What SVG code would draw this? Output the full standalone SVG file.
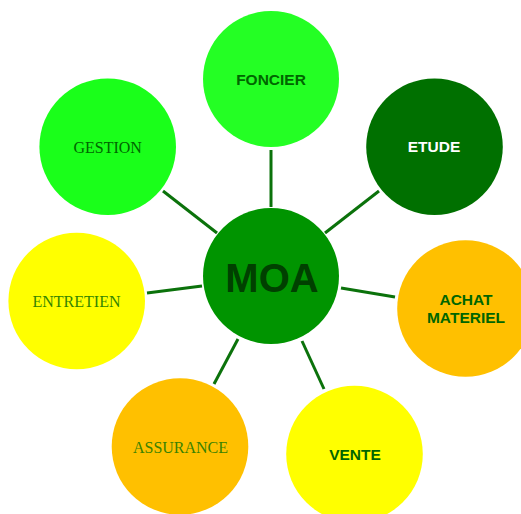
<svg xmlns="http://www.w3.org/2000/svg" width="521" height="514" viewBox="0 0 521 514">
<style>
.c{stroke:none}
.s{font-family:"Liberation Sans",Arial,sans-serif;font-weight:bold;font-size:15.5px;text-anchor:middle;fill:#006600}
.t{font-family:"Liberation Serif","Times New Roman",serif;font-size:16px;text-anchor:middle}
.ln{stroke:#0b720b;stroke-width:3;fill:none}
</style>
<rect width="521" height="514" fill="#ffffff"/>
<g id="connectors">
<line class="ln" x1="271" y1="150" x2="271" y2="207"/>
<line class="ln" x1="325" y1="233" x2="379" y2="191"/>
<line class="ln" x1="163" y1="191" x2="217" y2="233"/>
<line class="ln" x1="147" y1="293" x2="202" y2="286"/>
<line class="ln" x1="341" y1="288" x2="395" y2="297"/>
<line class="ln" x1="302" y1="341" x2="324" y2="389"/>
<line class="ln" x1="238" y1="339" x2="214" y2="384"/>
</g>
<g id="moa">
<circle class="c" cx="271" cy="276" r="68" fill="#009400"/>
<text x="272" y="291.5" style="font-family:'Liberation Sans',Arial,sans-serif;font-weight:bold;font-size:40px;text-anchor:middle" fill="#004000">MOA</text>
</g>
<g id="foncier">
<circle class="c" cx="271" cy="79" r="68" fill="#24ff24"/>
<text class="s" x="271" y="85">FONCIER</text>
</g>
<g id="etude">
<circle class="c" cx="434.5" cy="146.7" r="68.3" fill="#007000"/>
<text class="s" x="434" y="152" style="fill:#ffffff">ETUDE</text>
</g>
<g id="achat">
<circle class="c" cx="465.5" cy="308.5" r="68.3" fill="#ffc000"/>
<text class="s" x="466" y="305">ACHAT</text>
<text class="s" x="466" y="323">MATERIEL</text>
</g>
<g id="vente">
<circle class="c" cx="354.5" cy="454" r="68.3" fill="#ffff00"/>
<text class="s" x="355" y="460">VENTE</text>
</g>
<g id="assurance">
<circle class="c" cx="180" cy="446.5" r="68.3" fill="#ffc000"/>
<text class="t" x="180.5" y="452.5" fill="#3a8200">ASSURANCE</text>
</g>
<g id="entretien">
<circle class="c" cx="76.7" cy="301" r="68.3" fill="#ffff00"/>
<text class="t" x="76.5" y="306.5" fill="#338500">ENTRETIEN</text>
</g>
<g id="gestion">
<circle class="c" cx="107.7" cy="146.7" r="68.3" fill="#1aff1a"/>
<text class="t" x="107.7" y="152.5" fill="#006600">GESTION</text>
</g>
</svg>
